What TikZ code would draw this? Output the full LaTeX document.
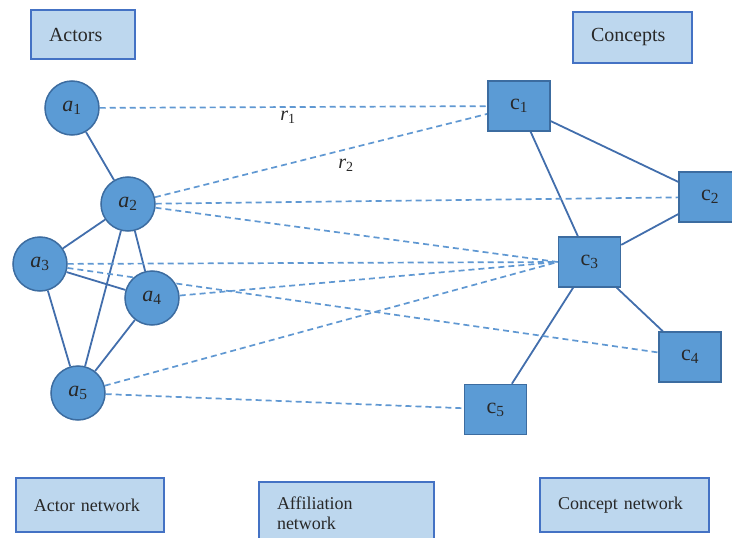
\documentclass[tikz,border=0pt]{standalone}
\usepackage{fontspec}
\setmainfont{Liberation Serif}
\usetikzlibrary{backgrounds}

\definecolor{nodeblue}{RGB}{91,155,213}
\definecolor{nodeedge}{RGB}{60,108,160}
\definecolor{linkblue}{RGB}{66,110,172}
\definecolor{dashblue}{RGB}{96,152,210}
\definecolor{labelfill}{RGB}{189,215,238}
\definecolor{labeledge}{RGB}{68,114,196}
\definecolor{labeltext}{RGB}{40,40,40}

\begin{document}
\begin{tikzpicture}[x=1pt, y=-1pt,
    actor/.style={circle, fill=nodeblue, draw=nodeedge, line width=1.5pt, minimum size=54pt, inner sep=0pt, text=labeltext, font=\fontsize{22}{24}\selectfont},
    concept/.style={rectangle, fill=nodeblue, draw=nodeedge, line width=1.5pt, minimum width=62pt, minimum height=50pt, inner sep=0pt, text=labeltext, font=\fontsize{22}{24}\selectfont},
    tie/.style={draw=linkblue, line width=1.8pt},
    affil/.style={draw=dashblue, line width=1.7pt, dash pattern=on 6pt off 4pt},
    labelbox/.style={draw=labeledge, fill=labelfill, line width=1.5pt, align=left, inner xsep=18pt, inner ysep=0pt, text=labeltext}]
    \clip (0,0) rectangle (732,538);

    % headings and captions
    \node[labelbox, text width=68pt, minimum height=49pt, font=\fontsize{20}{22}\selectfont] (actors) at (83,34.5) {Actors};
    \node[labelbox, text width=83pt, minimum height=51pt, font=\fontsize{20}{22}\selectfont] (concepts) at (632.5,37.5) {Concepts};
    \node[labelbox, text width=112pt, minimum height=54pt, font=\fontsize{18}{20}\selectfont] (actnet) at (90,505) {Actor network};
    \node[labelbox, text width=139pt, minimum height=62pt, font=\fontsize{18}{20}\selectfont] (affnet) at (346.5,513) {Affiliation\\network};
    \node[labelbox, text width=133pt, minimum height=54pt, font=\fontsize{18}{20}\selectfont] (connet) at (624.5,505) {Concept network};

    % actors
    \node[actor] (a1) at (72,108) {\textit{a}\textsubscript{1}};
    \node[actor] (a2) at (128,204) {\textit{a}\textsubscript{2}};
    \node[actor] (a3) at (40,264) {\textit{a}\textsubscript{3}};
    \node[actor] (a4) at (152,298) {\textit{a}\textsubscript{4}};
    \node[actor] (a5) at (78,393) {\textit{a}\textsubscript{5}};

    % concepts
    \node[concept] (c1) at (519,106) {c\textsubscript{1}};
    \node[concept] (c2) at (710,197) {c\textsubscript{2}};
    \node[concept] (c3) at (589.5,262) {c\textsubscript{3}};
    \node[concept] (c4) at (690,357) {c\textsubscript{4}};
    \node[concept] (c5) at (495.5,409.5) {c\textsubscript{5}};

    \begin{scope}[on background layer]
        % actor network
        \draw[tie] (a1) -- (a2);
        \draw[tie] (a2) -- (a3);
        \draw[tie] (a2) -- (a4);
        \draw[tie] (a2) -- (a5);
        \draw[tie] (a3) -- (a4);
        \draw[tie] (a3) -- (a5);
        \draw[tie] (a4) -- (a5);
        % concept network
        \draw[tie] (c1) -- (c2);
        \draw[tie] (c1) -- (c3);
        \draw[tie] (c3) -- (c2);
        \draw[tie] (c3) -- (c4);
        \draw[tie] (c3) -- (c5);
        % affiliations
        \draw[affil] (a1) -- (c1);
        \draw[affil] (a2) -- (c1);
        \draw[affil] (a2) -- (c2);
        \draw[affil] (a2) -- (c3.west);
        \draw[affil] (a3) -- (c3.west);
        \draw[affil] (a3) -- (c4);
        \draw[affil] (a4) -- (c3.west);
        \draw[affil] (a5) -- (c3.west);
        \draw[affil] (a5) -- (c5);
    \end{scope}

    \node[text=labeltext, font=\fontsize{20}{22}\selectfont] (r1) at (288,117) {\textit{r}\textsubscript{1}};
    \node[text=labeltext, font=\fontsize{20}{22}\selectfont] (r2) at (346,165) {\textit{r}\textsubscript{2}};
\end{tikzpicture}
\end{document}
